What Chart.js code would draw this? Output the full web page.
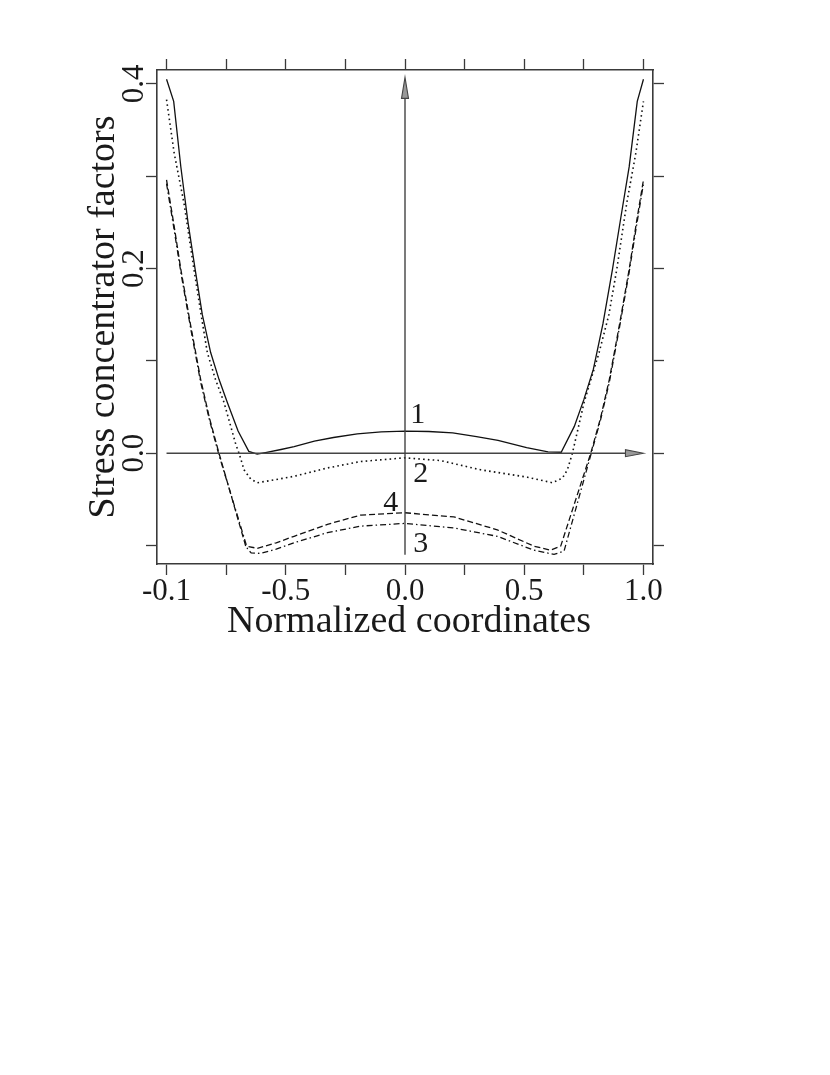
<!DOCTYPE html>
<html>
<head>
<meta charset="utf-8">
<script src="https://cdn.jsdelivr.net/npm/chart.js@4"></script>
<style>
  html, body { margin: 0; padding: 0; background: #fff; }
  #chart { display: block; }
</style>
</head>
<body>
<canvas id="chart" width="830" height="1075"></canvas>
<script>
// curve 1 - solid
const x1 = [-1.0, -0.97, -0.94, -0.91, -0.88, -0.85, -0.815, -0.78, -0.745, -0.7, -0.655, -0.62, -0.58, -0.52, -0.465, -0.38, -0.3, -0.2, -0.1, 0, 0.1, 0.2, 0.3, 0.39, 0.51, 0.6, 0.655, 0.71, 0.75, 0.79, 0.83, 0.87, 0.905, 0.94, 0.974, 1.0];
const y1 = [0.405, 0.381, 0.31, 0.25, 0.199, 0.15, 0.109, 0.08, 0.055, 0.024, 0.002, -0.001, 0.001, 0.004, 0.007, 0.013, 0.017, 0.021, 0.023, 0.024, 0.0235, 0.022, 0.018, 0.014, 0.006, 0.0015, 0.001, 0.029, 0.058, 0.091, 0.14, 0.199, 0.255, 0.31, 0.381, 0.405];
// curve 2 - dotted
const x2 = [-1.0, -0.968, -0.927, -0.885, -0.855, -0.829, -0.795, -0.759, -0.71, -0.696, -0.675, -0.647, -0.62, -0.55, -0.465, -0.325, -0.186, 0, 0.15, 0.317, 0.513, 0.618, 0.66, 0.681, 0.702, 0.751, 0.78, 0.814, 0.855, 0.888, 0.93, 0.968, 1.0];
const y2 = [0.383, 0.325, 0.271, 0.199, 0.15, 0.109, 0.08, 0.055, 0.01, 0.0, -0.018, -0.028, -0.032, -0.029, -0.025, -0.016, -0.009, -0.005, -0.008, -0.018, -0.026, -0.032, -0.027, -0.018, 0.0, 0.055, 0.08, 0.109, 0.15, 0.199, 0.271, 0.325, 0.381];
// curve 3 - dash-dot
const x3 = [-1.0, -0.97, -0.94, -0.9, -0.857, -0.82, -0.78, -0.66, -0.645, -0.605, -0.54, -0.465, -0.325, -0.186, 0, 0.205, 0.387, 0.54, 0.625, 0.667, 0.779, 0.82, 0.857, 0.9, 0.94, 0.97, 1.0];
const y3 = [0.292, 0.245, 0.196, 0.137, 0.077, 0.036, -0.002, -0.104, -0.108, -0.1085, -0.104, -0.097, -0.086, -0.079, -0.076, -0.081, -0.09, -0.105, -0.1096, -0.106, -0.002, 0.036, 0.077, 0.137, 0.196, 0.245, 0.292];
// curve 4 - dashed
const x4 = [-1.0, -0.97, -0.94, -0.9, -0.857, -0.82, -0.78, -0.668, -0.619, -0.54, -0.465, -0.325, -0.186, 0, 0.205, 0.387, 0.54, 0.61, 0.653, 0.779, 0.82, 0.857, 0.9, 0.94, 0.97, 1.0];
const y4 = [0.296, 0.249, 0.199, 0.14, 0.08, 0.038, 0.0, -0.1006, -0.103, -0.097, -0.09, -0.077, -0.067, -0.0645, -0.069, -0.083, -0.1006, -0.105, -0.1006, 0.0, 0.038, 0.08, 0.14, 0.199, 0.249, 0.296];

const xTickValues = [-1, -0.75, -0.5, -0.25, 0, 0.25, 0.5, 0.75, 1];
const xTickLabels = ['-0.1', '', '-0.5', '', '0.0', '', '0.5', '', '1.0'];
const yTickValues = [-0.1, 0, 0.1, 0.2, 0.3, 0.4];
const yTickLabels = ['', '0.0', '', '0.2', '', '0.4'];

const curveNames = ['1', '2', '3', '4'];
const curveLabelX = [0.053, 0.066, 0.066, -0.06];
const curveLabelY = [0.0332, -0.0317, -0.1075, -0.0631];

const xTitle = 'Normalized coordinates';
const yTitle = 'Stress concentrator factors';

const SERIF = '"Liberation Serif", "DejaVu Serif", serif';
const toPts = (xs, ys) => xs.map((x, i) => ({ x: x, y: ys[i] }));

const frameColor = '#3a3a3a';

function setTicks(values) {
  return scale => { scale.ticks = values.map(v => ({ value: v })); };
}
function axis(position, values, size, isX) {
  return {
    type: 'linear',
    position: position,
    min: isX ? -1.04 : -0.12,
    max: isX ? 1.04 : 0.415,
    afterBuildTicks: setTicks(values),
    afterFit: s => { if (isX) s.height = size; else s.width = size; },
    ticks: { callback: () => '', font: { size: 1 }, padding: 0 },
    grid: { drawOnChartArea: false, drawTicks: true, tickLength: 11, tickColor: frameColor, tickWidth: 1.3 },
    border: { display: true, color: frameColor, width: 1.6 }
  };
}

const overlay = {
  id: 'overlay',
  afterDraw(chart) {
    const ctx = chart.ctx;
    const xs = chart.scales.x, ys = chart.scales.y;
    ctx.save();
    // axis arrows through origin
    ctx.strokeStyle = '#444';
    ctx.lineWidth = 1.4;
    const y0 = ys.getPixelForValue(0);
    const hx0 = xs.getPixelForValue(-1), hx1 = xs.getPixelForValue(1.0);
    const vx = xs.getPixelForValue(0);
    const vy0 = ys.getPixelForValue(-0.11), vy1 = ys.getPixelForValue(0.407);
    ctx.beginPath();
    ctx.moveTo(hx0, y0); ctx.lineTo(hx1 - 18, y0);
    ctx.moveTo(vx, vy0); ctx.lineTo(vx, vy1 + 20);
    ctx.stroke();
    ctx.fillStyle = '#999';
    ctx.lineWidth = 1.1;
    ctx.beginPath();
    ctx.moveTo(hx1, y0); ctx.lineTo(hx1 - 18, y0 - 3.5); ctx.lineTo(hx1 - 18, y0 + 3.5); ctx.closePath();
    ctx.fill(); ctx.stroke();
    ctx.beginPath();
    ctx.moveTo(vx, vy1); ctx.lineTo(vx - 3.5, vy1 + 21); ctx.lineTo(vx + 3.5, vy1 + 21); ctx.closePath();
    ctx.fill(); ctx.stroke();

    ctx.fillStyle = '#1a1a1a';
    // x tick labels
    ctx.font = '31px ' + SERIF;
    ctx.textAlign = 'center';
    ctx.textBaseline = 'alphabetic';
    xTickValues.forEach((v, i) => {
      if (xTickLabels[i]) ctx.fillText(xTickLabels[i], xs.getPixelForValue(v), 600);
    });
    // y tick labels, rotated
    yTickValues.forEach((v, i) => {
      if (!yTickLabels[i]) return;
      ctx.save();
      ctx.translate(143, ys.getPixelForValue(v));
      ctx.rotate(-Math.PI / 2);
      ctx.fillText(yTickLabels[i], 0, 0);
      ctx.restore();
    });
    // titles
    ctx.font = '38px ' + SERIF;
    ctx.fillText(xTitle, 409, 632);
    ctx.save();
    ctx.translate(114, (chart.chartArea.top + chart.chartArea.bottom) / 2);
    ctx.rotate(-Math.PI / 2);
    ctx.fillText(yTitle, 0, 0);
    ctx.restore();
    // curve numbers
    ctx.font = '30px ' + SERIF;
    curveNames.forEach((n, i) => {
      ctx.fillText(n, xs.getPixelForValue(curveLabelX[i]), ys.getPixelForValue(curveLabelY[i]));
    });
    ctx.restore();
  }
};

const lineBase = {
  borderColor: '#111',
  borderWidth: 1.3,
  pointRadius: 0,
  fill: false,
  tension: 0
};

new Chart(document.getElementById('chart'), {
  type: 'line',
  data: {
    datasets: [
      Object.assign({ label: '1', data: toPts(x1, y1) }, lineBase),
      Object.assign({}, lineBase, { label: '2', data: toPts(x2, y2), borderDash: [1.6, 3.2], borderWidth: 1.6 }),
      Object.assign({ label: '3', data: toPts(x3, y3), borderDash: [6, 3, 1.5, 3] }, lineBase),
      Object.assign({ label: '4', data: toPts(x4, y4), borderDash: [6, 3] }, lineBase)
    ]
  },
  options: {
    responsive: false,
    animation: false,
    devicePixelRatio: 1,
    layout: { padding: 0 },
    plugins: { legend: { display: false }, tooltip: { enabled: false } },
    scales: {
      x: axis('bottom', xTickValues, 511, true),
      xTop: axis('top', xTickValues, 70, true),
      y: axis('left', yTickValues, 157, false),
      yRight: axis('right', yTickValues, 177, false)
    }
  },
  plugins: [overlay]
});
</script>
</body>
</html>
